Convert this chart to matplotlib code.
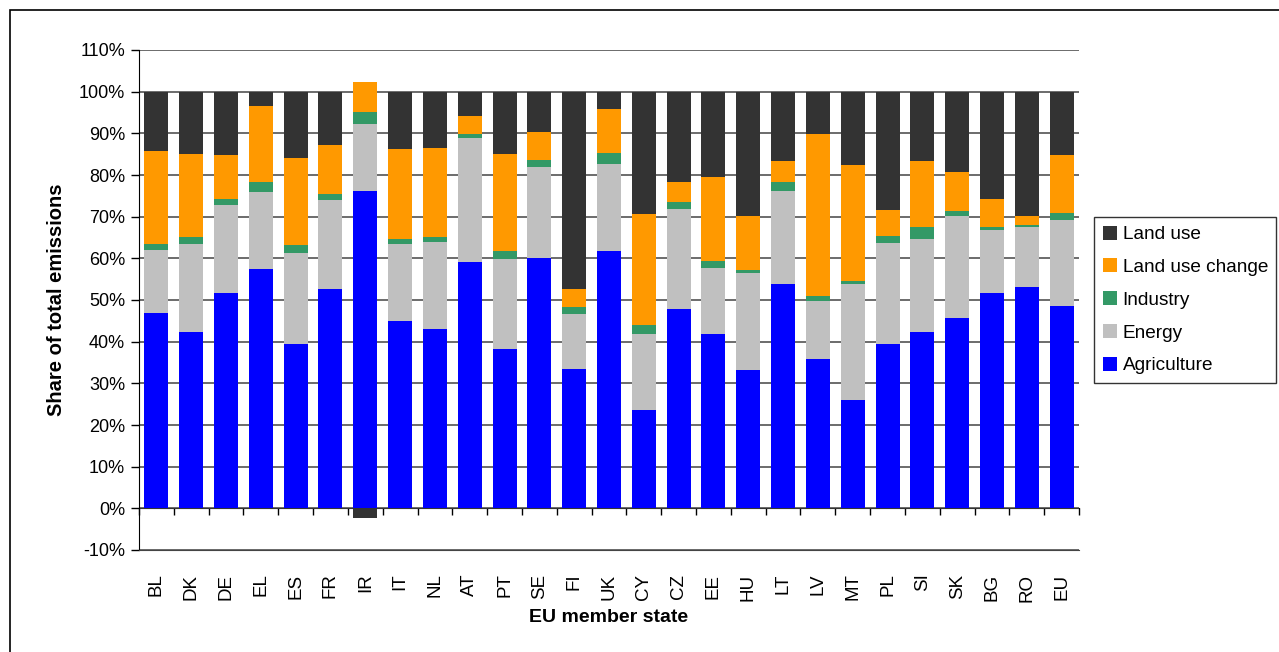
import numpy as np
import matplotlib
matplotlib.use('Agg')
import matplotlib.pyplot as plt
from matplotlib.patches import Rectangle

plt.rcParams['font.family'] = ['Liberation Sans', 'DejaVu Sans']

# Data (shares of total emissions, %)
states = ['BL', 'DK', 'DE', 'EL', 'ES', 'FR', 'IR', 'IT', 'NL', 'AT', 'PT', 'SE', 'FI', 'UK',
          'CY', 'CZ', 'EE', 'HU', 'LT', 'LV', 'MT', 'PL', 'SI', 'SK', 'BG', 'RO', 'EU']
agriculture = [46.9, 42.3, 51.7, 57.5, 39.4, 52.6, 76.2, 45.0, 43.0, 59.1, 38.2, 60.1, 33.4, 61.8,
               23.6, 47.8, 41.8, 33.2, 53.8, 35.8, 26.0, 39.4, 42.3, 45.7, 51.7, 53.1, 48.6]
energy = [15.1, 21.2, 21.1, 18.5, 21.9, 21.4, 16.1, 18.5, 21.0, 29.8, 21.7, 21.9, 13.2, 20.9,
          18.2, 24.1, 15.9, 23.3, 22.4, 14.0, 27.8, 24.3, 22.4, 24.5, 15.1, 14.4, 20.6]
industry = [1.5, 1.6, 1.5, 2.4, 1.9, 1.5, 2.9, 1.2, 1.1, 1.0, 1.9, 1.7, 1.7, 2.6,
            2.2, 1.7, 1.7, 0.7, 2.2, 1.2, 0.8, 1.7, 2.8, 1.2, 0.7, 0.5, 1.7]
land_use_change = [22.3, 20.0, 10.6, 18.2, 20.9, 11.8, 7.0, 21.6, 21.4, 4.3, 23.3, 6.7, 4.3, 10.6,
                   26.7, 4.8, 20.2, 13.0, 5.0, 38.9, 27.9, 6.2, 15.9, 9.4, 6.8, 2.2, 14.0]
land_use = [14.2, 14.9, 15.1, 3.4, 15.9, 12.7, -2.3, 13.7, 13.5, 5.8, 14.9, 9.6, 47.4, 4.1,
            29.3, 21.6, 20.4, 29.8, 16.6, 10.1, 17.5, 28.4, 16.6, 19.2, 25.7, 29.8, 15.1]

series = [('Agriculture', agriculture, '#0000FF'),
          ('Energy', energy, '#C0C0C0'),
          ('Industry', industry, '#339966'),
          ('Land use change', land_use_change, '#FF9900'),
          ('Land use', land_use, '#333333')]

fig = plt.figure(figsize=(12.79, 6.52), dpi=100)
ax = fig.add_axes([139 / 1279, 1 - 550 / 652, 940 / 1279, 500 / 652])

x = np.arange(len(states))
pos_bottom = np.zeros(len(states))
neg_bottom = np.zeros(len(states))
handles = []
for name, vals, col in series:
    v = np.array(vals)
    bottom = np.where(v >= 0, pos_bottom, neg_bottom)
    b = ax.bar(x, v, width=0.69, bottom=bottom, color=col, label=name, zorder=3)
    handles.append(b)
    pos_bottom = pos_bottom + np.where(v >= 0, v, 0)
    neg_bottom = neg_bottom + np.where(v < 0, v, 0)

ax.set_xlim(-0.5, len(states) - 0.5)
ax.set_ylim(-10, 110)
ax.set_yticks(np.arange(-10, 111, 10))
ax.set_yticklabels([f'{t}%' for t in range(-10, 111, 10)], fontsize=13)
ax.grid(axis='y', color='#444444', linewidth=1.1, zorder=0)
ax.set_axisbelow(True)

for s in ['top', 'right']:
    ax.spines[s].set_visible(False)
ax.spines['left'].set_color('black')
ax.spines['bottom'].set_color('#444444')
ax.tick_params(axis='y', length=6, width=1, direction='out', pad=4)

ax.set_xticks(x)
ax.set_xticklabels(states, rotation=90, fontsize=13.5)
ax.tick_params(axis='x', length=0, pad=17)

# category axis at 0%
sec = ax.secondary_xaxis(10 / 120)
sec.set_xticks(np.arange(len(states) + 1) - 0.5)
sec.set_xticklabels([])
sec.tick_params(axis='x', length=5, width=1, direction='out', color='black')
sec.spines['bottom'].set_color('black')

ax.set_ylabel('Share of total emissions', fontsize=14.5, fontweight='bold', labelpad=9)
ax.set_xlabel('EU member state', fontsize=14, fontweight='bold', labelpad=5)

fig.legend(handles[::-1], [s[0] for s in series][::-1], loc='upper left',
           bbox_to_anchor=(1094 / 1279, 1 - 217 / 652), borderaxespad=0,
           fontsize=13.7, frameon=True, fancybox=False, edgecolor='black',
           handlelength=0.75, handleheight=0.75, handletextpad=0.3,
           labelspacing=0.8, borderpad=0.45)

fig.patches.append(Rectangle((10 / 1279, -0.05), 1.1, 1 - 10 / 652 + 0.05,
                             transform=fig.transFigure, fill=False,
                             edgecolor='black', linewidth=1.2))

fig.savefig('out.png', dpi=100)
